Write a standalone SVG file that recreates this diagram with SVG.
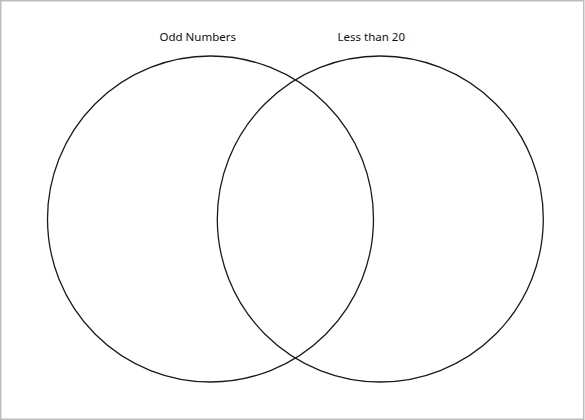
<svg xmlns="http://www.w3.org/2000/svg" width="585" height="420" viewBox="0 0 585 420">
<style>
.set{fill:none;stroke:#1a1a1a;stroke-width:1.3}
.lbl{font-family:"Noto Sans","Open Sans",sans-serif;font-size:11.5px;fill:#111;text-anchor:middle}
</style>
<rect x="0" y="0" width="585" height="420" fill="#fff"/>
<rect x="0.75" y="0.75" width="583" height="418.5" fill="none" stroke="#bdbdbd" stroke-width="1.5"/>
<g id="odd-numbers">
<circle class="set" cx="210.5" cy="219" r="163"/>
<text class="lbl" x="197.7" y="40.7">Odd Numbers</text>
</g>
<g id="less-than-20">
<circle class="set" cx="380.3" cy="219" r="163"/>
<text class="lbl" x="371.3" y="40.7">Less than 20</text>
</g>
<g id="connectors"/>
</svg>
